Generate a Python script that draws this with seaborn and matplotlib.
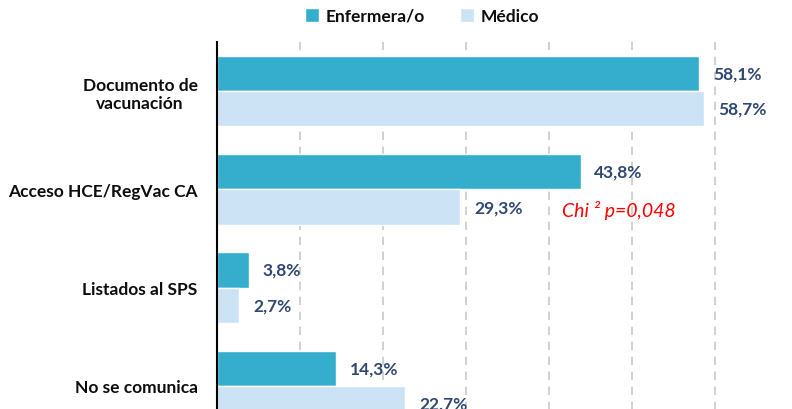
import matplotlib
matplotlib.use("Agg")
import matplotlib.pyplot as plt
from matplotlib.font_manager import FontProperties
import seaborn as sns
import pandas as pd

categories = ["Documento de\nvacunación", "Acceso HCE/RegVac CA", "Listados al SPS", "No se comunica"]
enfermera = [58.1, 43.8, 3.8, 14.3]
medico = [58.7, 29.3, 2.7, 22.7]
series_names = ["Enfermera/o", "Médico"]
colors = ["#35AECD", "#CCE3F5"]
annotation_text = "Chi ² p=0,048"

sns.set_theme(style="white")
plt.rcParams["font.family"] = ["Lato", "DejaVu Sans"]

df = pd.DataFrame({
    "cat": categories * 2,
    "val": enfermera + medico,
    "serie": [series_names[0]] * 4 + [series_names[1]] * 4,
})

fig = plt.figure(figsize=(7.92, 4.10), dpi=100)
ax = fig.add_axes([217 / 792, 1 - 436 / 410, 581 / 792, 393 / 410])

sns.barplot(data=df, x="val", y="cat", hue="serie", order=categories,
            hue_order=series_names, palette=colors, orient="h", width=0.72,
            saturation=1, errorbar=None, ax=ax, legend=True)

ax.set_xlim(0, 70)
ax.set_ylim(3.5, -0.5)
ax.set_xticks([10, 20, 30, 40, 50, 60])
ax.set_xticklabels([])
ax.xaxis.grid(True, linestyle=(0, (5, 4)), color="#C8C8C8", linewidth=1.2)
ax.set_axisbelow(True)
ax.tick_params(axis="both", length=0)
ax.tick_params(axis="y", pad=14)
for s in ["top", "right", "bottom"]:
    ax.spines[s].set_visible(False)
ax.spines["left"].set_color("black")
ax.spines["left"].set_linewidth(1.5)
ax.set_xlabel("")
ax.set_ylabel("")
for lbl in ax.get_yticklabels():
    lbl.set_fontsize(12.5)
    lbl.set_fontweight("bold")
    lbl.set_color("#0D0D0D")
    lbl.set_multialignment("center")

for container in ax.containers:
    labels = [f"{v:.1f}%".replace(".", ",") for v in container.datavalues]
    ax.bar_label(container, labels=labels, padding=10, fontsize=12.5,
                 fontweight="bold", color="#2E4770")

ax.text(41.6, 1.2, annotation_text, color="#FF0000", fontsize=14,
        style="italic", va="center", ha="left")

h, l = ax.get_legend_handles_labels()
leg = ax.legend(h, l, loc="center", bbox_to_anchor=(422 / 792, 1 - 17 / 410),
                bbox_transform=fig.transFigure, ncol=2, frameon=False,
                handlelength=0.8, handleheight=0.8, handletextpad=0.4,
                columnspacing=2.0,
                prop=FontProperties(family="Lato", weight="bold", size=12.5))
for t in leg.get_texts():
    t.set_color("#0D0D0D")

fig.savefig("out.png", dpi=100)
